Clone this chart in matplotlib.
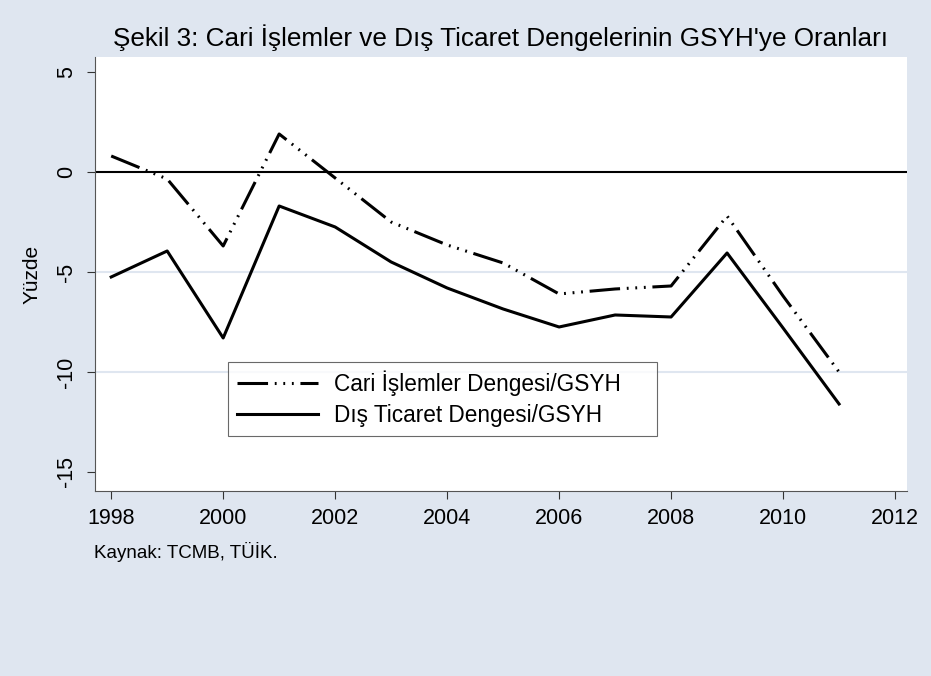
import numpy as np
import matplotlib.pyplot as plt

plt.rcParams['font.family'] = ['Liberation Sans', 'DejaVu Sans']

# data
years = [1998, 1999, 2000, 2001, 2002, 2003, 2004, 2005, 2006, 2007, 2008, 2009, 2010, 2011]
cari = [0.8, -0.35, -3.7, 1.9, -0.3, -2.5, -3.65, -4.55, -6.1, -5.85, -5.7, -2.2, -6.2, -10.0]
dis_ticaret = [-5.25, -3.95, -8.3, -1.7, -2.75, -4.5, -5.8, -6.85, -7.75, -7.15, -7.25, -4.05, -7.8, -11.6]

xticks = np.arange(1998, 2013, 2)
yticks = [5, 0, -5, -10, -15]

bg = '#dfe6f0'

fig = plt.figure(figsize=(9.31, 6.76), dpi=100, facecolor=bg)
ax = fig.add_axes([0.102, 0.2737, 0.872, 0.642])
ax.set_facecolor('white')

# grid lines (stata style, inner ticks only)
for yv in [-10, -5]:
    ax.axhline(yv, color=bg, lw=1.5, zorder=1)
ax.axhline(0, color='black', lw=1.5, zorder=2)

ax.plot(years, cari, color='black', lw=2.2, dashes=[10, 2.2, 0.6, 2.2, 0.6, 2.2, 0.6, 2.2],
        label='Cari İşlemler Dengesi/GSYH', zorder=3)
ax.plot(years, dis_ticaret, color='black', lw=2.2, label='Dış Ticaret Dengesi/GSYH', zorder=3)

ax.set_xlim(1997.71, 2012.21)
ax.set_ylim(-15.95, 5.75)
ax.set_xticks(xticks)
ax.set_yticks(yticks)
ax.set_yticklabels([str(v) for v in yticks], rotation=90, va='center')
ax.tick_params(axis='both', direction='out', length=6, width=0.8, color='#333333', labelsize=15.5)
ax.tick_params(axis='y', pad=7)
ax.tick_params(axis='x', pad=6)

for s in ['top', 'right']:
    ax.spines[s].set_visible(False)
for s in ['left', 'bottom']:
    ax.spines[s].set_color('#555555')
    ax.spines[s].set_linewidth(0.8)

ax.set_ylabel('Yüzde', fontsize=15)
ax.yaxis.set_label_coords(-0.066, 0.5)

ax.set_title("Şekil 3: Cari İşlemler ve Dış Ticaret Dengelerinin GSYH'ye Oranları", fontsize=18.8, pad=8)

leg = ax.legend(loc='lower left', bbox_to_anchor=(0.164, 0.127, 0.528, 0.175), mode='expand',
                borderaxespad=0, fontsize=16.3, frameon=True, fancybox=False, handlelength=3.6,
                handletextpad=0.7, labelspacing=0.35, borderpad=0.38)
leg.get_frame().set_edgecolor('#444444')
leg.get_frame().set_linewidth(0.8)

fig.text(94 / 931, 1 - 558 / 676, 'Kaynak: TCMB, TÜİK.', fontsize=13.5, va='baseline', ha='left')

plt.savefig('out.png', dpi=100, facecolor=bg)
